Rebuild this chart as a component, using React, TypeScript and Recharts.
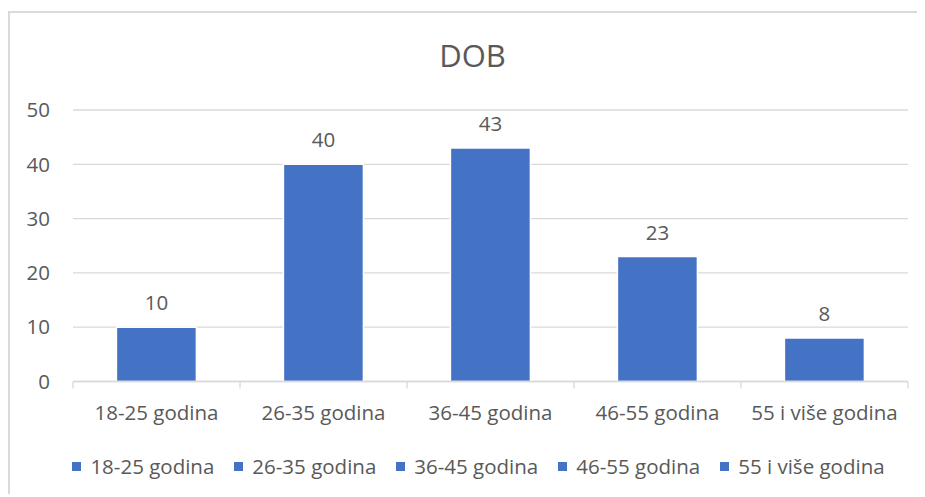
import React from 'react';
import { BarChart, Bar, XAxis, YAxis, CartesianGrid, LabelList } from 'recharts';

const categories = ['18-25 godina', '26-35 godina', '36-45 godina', '46-55 godina', '55 i više godina'];
const counts = [10, 40, 43, 23, 8];
const yTicks = [0, 10, 20, 30, 40, 50];
const title = 'DOB';

const data = categories.map((c, i) => ({ name: c, value: counts[i] }));

const FONT = '"Open Sans", sans-serif';
const TEXT = '#595959';
const BLUE = '#4472C4';
const GRID = '#d9d9d9';
const TICK_MARGIN = 24;
const TICK_LEN = 7;

const CategoryTick = (props: any) => {
  const { x, y, payload, index, visibleTicksCount } = props;
  const half = payload && typeof payload.offset === 'number' ? payload.offset : 0;
  const axisY = y - TICK_MARGIN;
  const isLast = index === (visibleTicksCount ?? categories.length) - 1;
  return (
    <g>
      <line x1={x - half} x2={x - half} y1={axisY} y2={axisY + TICK_LEN} stroke={GRID} strokeWidth={1.3} />
      {isLast && (
        <line x1={x + half} x2={x + half} y1={axisY} y2={axisY + TICK_LEN} stroke={GRID} strokeWidth={1.3} />
      )}
      <text x={x} y={y} dy="0.71em" textAnchor="middle" fill={TEXT} fontSize={20.5} fontFamily={FONT}>
        {payload.value}
      </text>
    </g>
  );
};

export default function App() {
  return (
    <>
      <style>{'html,body{overflow:hidden;}'}</style>
      <div
        style={{
          position: 'relative',
          top: 3,
          width: 915,
          height: 484,
          borderLeft: `2px solid ${GRID}`,
          borderTop: `2px solid ${GRID}`,
          fontFamily: FONT,
          background: '#fff',
        }}
      >
        <div
          style={{
            position: 'absolute',
            top: 22,
            left: 5,
            width: 915,
            textAlign: 'center',
            fontSize: 31,
            lineHeight: '40px',
            color: TEXT,
          }}
        >
          {title}
        </div>
        <BarChart
          width={915}
          height={476}
          data={data}
          margin={{ top: 97, right: 17, bottom: 47.5, left: 0 }}
          barCategoryGap="26%"
        >
          <CartesianGrid vertical={false} stroke={GRID} strokeWidth={1.3} />
          <XAxis
            dataKey="name"
            tickLine={false}
            axisLine={{ stroke: GRID, strokeWidth: 1.3 }}
            tickSize={0}
            tickMargin={TICK_MARGIN}
            height={60}
            interval={0}
            tick={CategoryTick}
          />
          <YAxis
            domain={[0, 50]}
            ticks={yTicks}
            axisLine={false}
            tickLine={false}
            tickSize={0}
            tickMargin={23}
            width={63}
            tick={{ fill: TEXT, fontSize: 20.5, fontFamily: FONT }}
          />
          <Bar dataKey="value" fill={BLUE} stroke="#fff" strokeWidth={1.5} isAnimationActive={false}>
            <LabelList dataKey="value" position="top" offset={17} fill={TEXT} fontSize={20.5} fontFamily={FONT} />
          </Bar>
        </BarChart>
        <div
          style={{
            position: 'absolute',
            top: 440,
            left: 21,
            width: 915,
            display: 'flex',
            justifyContent: 'center',
            alignItems: 'center',
            lineHeight: '26px',
            fontSize: 20.5,
            color: TEXT,
          }}
        >
          {categories.map((c) => (
            <div key={c} style={{ display: 'flex', alignItems: 'center', marginRight: 20 }}>
              <span style={{ width: 9, height: 9, background: BLUE, marginRight: 9, display: 'inline-block' }} />
              <span>{c}</span>
            </div>
          ))}
        </div>
      </div>
    </>
  );
}
